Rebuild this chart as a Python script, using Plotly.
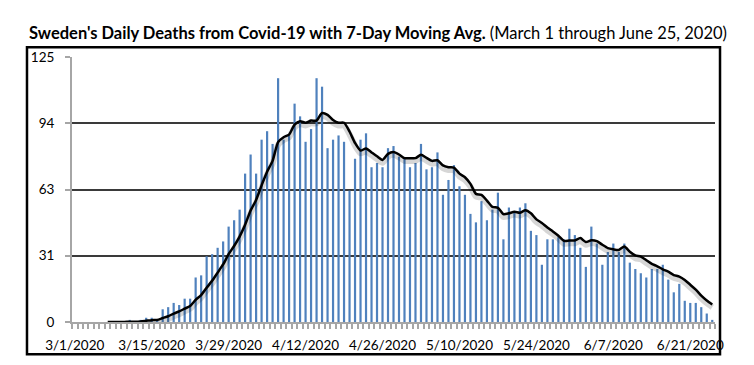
import plotly.graph_objects as go
import pandas as pd

# Categories: every day from March 1 through June 25, 2020
dates = [f"{d.month}/{d.day}/{d.year}" for d in pd.date_range("2020-03-01", "2020-06-25", freq="D")]

# Daily deaths
daily_deaths = [0, 0, 0, 0, 0, 0, 0, 0, 0, 0,
                1, 0, 1, 2, 2, 1, 6, 7, 9, 8,
                11, 11, 21, 22, 31, 32, 35, 38, 45, 48,
                53, 70, 79, 70, 86, 90, 84, 115, 86, 88,
                103, 97, 85, 91, 115, 111, 82, 86, 88, 85,
                62, 77, 86, 89, 73, 75, 73, 82, 83, 78,
                77, 73, 75, 84, 72, 73, 80, 60, 67, 74,
                64, 60, 51, 47, 57, 48, 53, 61, 39, 54,
                52, 54, 56, 43, 41, 27, 39, 39, 40, 39,
                44, 41, 35, 26, 45, 37, 27, 33, 37, 33,
                37, 28, 25, 23, 21, 25, 25, 27, 20, 14,
                18, 10, 9, 9, 7, 4, 1]

# 7-day moving average (starts on the 7th day)
moving_avg = [None] * 6 + [
    0, 0, 0, 0,
    0.14, 0.14, 0.29, 0.57, 0.86, 1.0, 1.86, 2.71, 4.0, 5.0,
    6.29, 7.57, 10.43, 12.71, 16.14, 19.43, 23.29, 27.14, 32.0, 35.86,
    40.29, 45.86, 52.57, 57.57, 64.43, 70.86, 76.0, 84.86, 87.14, 88.43,
    93.14, 94.71, 94.0, 95.0, 95.0, 98.57, 97.71, 95.29, 94.0, 94.0,
    89.86, 84.43, 80.86, 81.86, 80.0, 78.14, 76.43, 79.29, 80.14, 79.0,
    77.29, 77.29, 77.29, 78.86, 77.43, 76.0, 76.29, 73.86, 73.0, 72.86,
    70.0, 68.29, 65.14, 60.43, 60.0, 57.29, 54.29, 53.86, 50.86, 51.29,
    52.0, 51.57, 52.71, 51.29, 48.43, 46.71, 44.57, 42.71, 40.71, 38.29,
    38.43, 38.43, 39.57, 37.71, 38.57, 38.14, 36.43, 34.86, 34.29, 34.0,
    35.57, 33.14, 31.43, 30.86, 29.14, 27.43, 26.29, 24.86, 23.71, 22.14,
    21.43, 19.86, 17.57, 15.29, 12.43, 10.14, 8.29]

tick_labels = ["3/1/2020", "3/15/2020", "3/29/2020", "4/12/2020", "4/26/2020",
               "5/10/2020", "5/24/2020", "6/7/2020", "6/21/2020"]
y_tickvals = [0, 31.25, 62.5, 93.75, 125]
y_ticktext = ["0", "31", "63", "94", "125"]

idx = list(range(len(dates)))
tick_idx = [dates.index(t) for t in tick_labels]
shadow = [None if v is None else v - 1.3 for v in moving_avg]

FONT = "Lato"
AXIS_GRAY = "#a6a6a6"

fig = go.Figure()
fig.add_trace(go.Bar(x=idx, y=daily_deaths, marker=dict(color="#4F81BD", line=dict(width=0)),
                     width=0.4, name="Daily deaths"))
fig.add_trace(go.Scatter(x=idx, y=shadow, mode="lines",
                         line=dict(color="rgba(0,0,0,0.16)", width=6, shape="spline", smoothing=0.6),
                         hoverinfo="skip", name="shadow"))
fig.add_trace(go.Scatter(x=idx, y=moving_avg, mode="lines",
                         line=dict(color="black", width=2.5, shape="spline", smoothing=0.6),
                         name="7-Day Moving Avg."))

fig.update_layout(
    width=746, height=357,
    margin=dict(l=64, r=39, t=49, b=38),
    paper_bgcolor="white", plot_bgcolor="white",
    showlegend=False,
    font=dict(family=FONT, size=13.5, color="black"),
    bargap=0.6,
    xaxis=dict(
        range=[-0.5, len(dates) - 0.5],
        tickmode="array", tickvals=tick_idx, ticktext=tick_labels,
        ticks="", showgrid=False, zeroline=False,
        showline=True, linecolor=AXIS_GRAY, linewidth=2,
        ticklabelstandoff=10,
        tickfont=dict(family=FONT, size=13.5, color="black"),
        minor=dict(ticks="outside", ticklen=5, tickwidth=2, tickcolor=AXIS_GRAY,
                   tick0=0.5, dtick=1, showgrid=False),
    ),
    yaxis=dict(
        range=[0, 125],
        tickmode="array", tickvals=y_tickvals, ticktext=y_ticktext,
        showgrid=True, gridcolor="#3a3a3a", gridwidth=2,
        zeroline=False,
        showline=True, linecolor=AXIS_GRAY, linewidth=2,
        ticks="outside", ticklen=5, tickwidth=2, tickcolor=AXIS_GRAY,
        ticklabelstandoff=8,
        tickfont=dict(family=FONT, size=13.5, color="black"),
    ),
    shapes=[dict(type="rect", xref="paper", yref="paper",
                 x0=-0.070, x1=1.0078, y0=-0.122, y1=1.037,
                 line=dict(color="black", width=2.5), fillcolor="rgba(0,0,0,0)",
                 layer="above")],
    annotations=[dict(xref="paper", yref="paper", x=-0.070, y=1.089,
                      xanchor="left", yanchor="middle", showarrow=False,
                      text="<b>Sweden's Daily Deaths from Covid-19 with 7-Day Moving Avg.</b> (March 1 through June 25, 2020)",
                      font=dict(family=FONT, size=16.5, color="black"))],
)

fig.write_html("out.html")
